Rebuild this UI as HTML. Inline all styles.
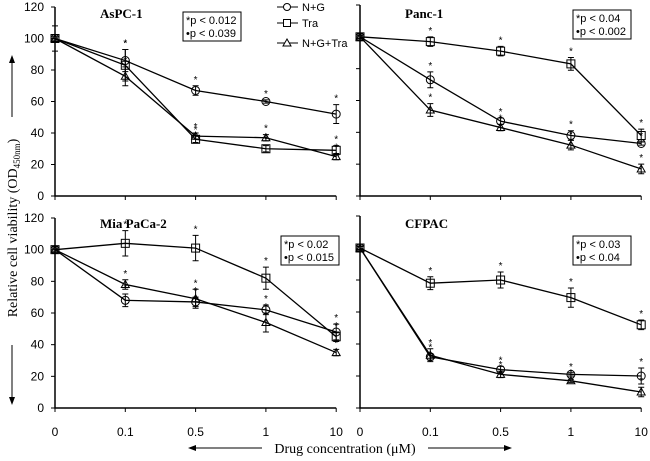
<!DOCTYPE html>
<html><head><meta charset="utf-8"><style>
body{margin:0;background:#fff}
svg{display:block;font-family:"Liberation Sans",sans-serif}
.serif{font-family:"Liberation Serif",serif}
</style></head><body>
<svg id="c" width="650" height="461" viewBox="0 0 650 461"></svg>
<script>
const xCats=["0","0.1","0.5","1","10"];
const yTicks=[0,20,40,60,80,100,120];
const panelTitles=["AsPC-1","Panc-1","Mia PaCa-2","CFPAC"];
const pText1=["p < 0.012","p < 0.04","p < 0.02","p < 0.03"];
const pText2=["p < 0.039","p < 0.002","p < 0.015","p < 0.04"];
const ngVals=[[100,86,67,60,52],[100,73,47,38,33],[100,68,67,62,48],[100,32,24,21,20]];
const traVals=[[100,83,36,30,29],[100,97,91,83,38],[100,104,101,82,45],[100,78,80,69,52]];
const ngtVals=[[100,76,38,37,25],[100,54,43,32,17],[100,78,69,54,35],[100,33,21,17,10]];
const ngErr=[[8,7,3,1,6],[2,5,2,3,1],[2,4,3,3,5],[1,2,2,1,5]];
const traErr=[[1,10,2,2,3],[1,3,3,4,4],[2,8,8,7,3],[1,4,5,6,3]];
const ngtErr=[[1,6,2,2,2],[1,4,2,3,3],[1,3,6,6,2],[1,4,2,1,3]];
const NS="http://www.w3.org/2000/svg";
const svg=document.getElementById('c');
function el(t,a,p){const e=document.createElementNS(NS,t);for(const k in a)e.setAttribute(k,a[k]);(p||svg).appendChild(e);return e;}
const panels=[{x0:55,y0:196,yTop:7},{x0:360,y0:196,yTop:5},{x0:55,y0:408,yTop:218},{x0:360,y0:408,yTop:216}];
const titleY=[18,18,228,228];
const xStep=70.3;
const boxX=[183,573,281,573],boxY=[12,10,236,236];
panels.forEach((P,pi)=>{
  const g=el('g',{});
  
  
  const ys=(P.y0-P.yTop)/120;
  const X=i=>P.x0+i*xStep, Y=v=>P.y0-v*ys;
  const ax=el('path',{d:`M${P.x0} ${P.yTop}V${P.y0}H${X(4)}`,stroke:'#000','stroke-width':1.5,fill:'none'},g);
  
  yTicks.forEach(t=>{el('line',{x1:P.x0-4,x2:P.x0,y1:Y(t),y2:Y(t),stroke:'#000'},g);
    if(pi%2==0){const tx=el('text',{x:P.x0-11,y:Y(t)+4,'text-anchor':'end','font-size':12},g);tx.textContent=t;
      }});
  xCats.forEach((c,i)=>{el('line',{x1:X(i),x2:X(i),y1:P.y0,y2:P.y0+4,stroke:'#000'},g);
    if(pi>=2){const tx=el('text',{x:X(i),y:436,'text-anchor':'middle','font-size':12},g);tx.textContent=c;
      }});
  const tt=el('text',{x:P.x0+45,y:titleY[pi],'font-size':13,'font-weight':'bold',class:'serif'},g);tt.textContent=panelTitles[pi];
  
  const bx=el('rect',{x:boxX[pi],y:boxY[pi],width:58,height:29,fill:'#fff',stroke:'#000'},g);
  
  [pText1[pi],pText2[pi]].forEach((s,k)=>{const tx=el('text',{x:boxX[pi]+3,y:boxY[pi]+12+k*13,'font-size':11},g);
    tx.textContent=(k==0?'*':'•')+s;});
  const series=[[ngVals,ngErr,'circle','ng'],[traVals,traErr,'square','tra'],[ngtVals,ngtErr,'tri','ngt']];
  series.forEach(([vals,errs,shape,nm])=>{
    const v=vals[pi],e=errs[pi];
    const ln=el('polyline',{points:v.map((d,i)=>X(i)+','+Y(d)).join(' '),fill:'none',stroke:'#000','stroke-width':1.3},g);
    
    v.forEach((d,i)=>{
      const x=X(i),y=Y(d),ey=e[i]*ys;
      el('path',{d:`M${x} ${y-ey}V${y+ey}M${x-3} ${y-ey}h6M${x-3} ${y+ey}h6`,stroke:'#000','stroke-width':1},g);
      let m;
      if(shape=='circle')m=el('circle',{cx:x,cy:y,r:4,fill:'none',stroke:'#000'},g);
      else if(shape=='square')m=el('rect',{x:x-4,y:y-4,width:8,height:8,fill:'none',stroke:'#000'},g);
      else m=el('path',{d:`M${x} ${y-4}L${x+4} ${y+3}L${x-4} ${y+3}Z`,fill:'none',stroke:'#000'},g);
      
      if(i>0){const st=el('text',{x:x,y:y-ey-3,'text-anchor':'middle','font-size':10},g);st.textContent='*';
        }
    });
  });
});
const lg=el('g',{});
[['N+G',7,'circle'],['Tra',23,'square'],['N+G+Tra',43,'tri']].forEach(([t,y,s])=>{
  el('line',{x1:277,x2:298,y1:y,y2:y,stroke:'#000'},lg);
  if(s=='circle')el('circle',{cx:287,cy:y,r:3.5,fill:'#fff',stroke:'#000'},lg);
  else if(s=='square')el('rect',{x:283.5,y:y-3.5,width:7,height:7,fill:'#fff',stroke:'#000'},lg);
  else el('path',{d:`M287 ${y-4}L291 ${y+3}L283 ${y+3}Z`,fill:'#fff',stroke:'#000'},lg);
  const tx=el('text',{x:302,y:y+4,'font-size':11},lg);tx.textContent=t;
  
});
const yt=el('text',{x:0,y:0,transform:'translate(17,228) rotate(-90)','text-anchor':'middle','font-size':14,class:'serif'});
yt.innerHTML='Relative cell viability (OD<tspan font-size="9" dy="3">450nm</tspan><tspan dy="-3">)</tspan>';

el('path',{d:'M12 117V60M12 345V400',stroke:'#000'});
el('path',{d:'M12 55l-3 8h6zM12 405l-3 -8h6z',fill:'#000'});
const xt=el('text',{x:345,y:453,'text-anchor':'middle','font-size':14,class:'serif'});xt.textContent='Drug concentration (μM)';

el('path',{d:'M192 448H262M428 448H508',stroke:'#000'});
el('path',{d:'M188 448l8 -3v6zM512 448l-8 -3v6z',fill:'#000'});
</script>
</body></html>
